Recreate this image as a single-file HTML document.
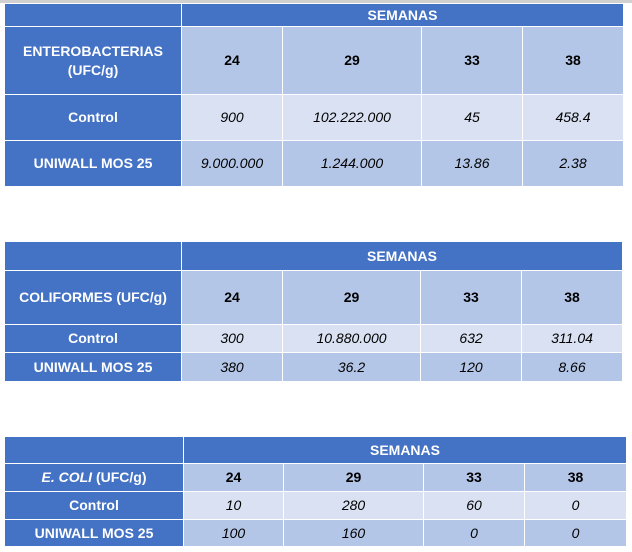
<!DOCTYPE html>
<html><head><meta charset="utf-8"><style>
body{margin:0;width:632px;height:552px;background:#fff;position:relative;overflow:hidden;font-family:"Liberation Sans",sans-serif}
.c{position:absolute;display:flex;align-items:center;justify-content:center;text-align:center;box-sizing:border-box;border-right:1px solid #fff;border-bottom:1px solid #fff;font-size:14px;color:#000;line-height:1.35}
.h{background:#4472C4;color:#fff;font-weight:bold}
.k{background:#B4C6E7;font-weight:bold}
.l{background:#D9E1F2;font-style:italic}
.m{background:#B4C6E7;font-style:italic}
.topbar{position:absolute;left:0;top:0;width:632px;height:3px;background:#d0d0d0}
</style></head><body>
<div class="topbar"></div>

<!-- Table 1 -->
<div>
<div class="c h" style="left:5px;top:4px;width:177px;height:23px"></div>
<div class="c h" style="left:182px;top:4px;width:442px;height:23px">SEMANAS</div>
<div class="c h" style="left:5px;top:27px;width:177px;height:68px">ENTEROBACTERIAS<br>(UFC/g)</div>
<div class="c k" style="left:182px;top:27px;width:101px;height:68px">24</div>
<div class="c k" style="left:283px;top:27px;width:139px;height:68px">29</div>
<div class="c k" style="left:422px;top:27px;width:101px;height:68px">33</div>
<div class="c k" style="left:523px;top:27px;width:101px;height:68px">38</div>
<div class="c h" style="left:5px;top:95px;width:177px;height:46px">Control</div>
<div class="c l" style="left:182px;top:95px;width:101px;height:46px">900</div>
<div class="c l" style="left:283px;top:95px;width:139px;height:46px">102.222.000</div>
<div class="c l" style="left:422px;top:95px;width:101px;height:46px">45</div>
<div class="c l" style="left:523px;top:95px;width:101px;height:46px">458.4</div>
<div class="c h" style="left:5px;top:141px;width:177px;height:46px">UNIWALL MOS 25</div>
<div class="c m" style="left:182px;top:141px;width:101px;height:46px">9.000.000</div>
<div class="c m" style="left:283px;top:141px;width:139px;height:46px">1.244.000</div>
<div class="c m" style="left:422px;top:141px;width:101px;height:46px">13.86</div>
<div class="c m" style="left:523px;top:141px;width:101px;height:46px">2.38</div>
</div>

<!-- Table 2 -->
<div>
<div class="c h" style="left:5px;top:242px;width:177px;height:29px"></div>
<div class="c h" style="left:182px;top:242px;width:441px;height:29px">SEMANAS</div>
<div class="c h" style="left:5px;top:271px;width:177px;height:54px">COLIFORMES (UFC/g)</div>
<div class="c k" style="left:182px;top:271px;width:101px;height:54px">24</div>
<div class="c k" style="left:283px;top:271px;width:138px;height:54px">29</div>
<div class="c k" style="left:421px;top:271px;width:101px;height:54px">33</div>
<div class="c k" style="left:522px;top:271px;width:101px;height:54px">38</div>
<div class="c h" style="left:5px;top:325px;width:177px;height:28px">Control</div>
<div class="c l" style="left:182px;top:325px;width:101px;height:28px">300</div>
<div class="c l" style="left:283px;top:325px;width:138px;height:28px">10.880.000</div>
<div class="c l" style="left:421px;top:325px;width:101px;height:28px">632</div>
<div class="c l" style="left:522px;top:325px;width:101px;height:28px">311.04</div>
<div class="c h" style="left:5px;top:353px;width:177px;height:29px">UNIWALL MOS 25</div>
<div class="c m" style="left:182px;top:353px;width:101px;height:29px">380</div>
<div class="c m" style="left:283px;top:353px;width:138px;height:29px">36.2</div>
<div class="c m" style="left:421px;top:353px;width:101px;height:29px">120</div>
<div class="c m" style="left:522px;top:353px;width:101px;height:29px">8.66</div>
</div>

<!-- Table 3 -->
<div>
<div class="c h" style="left:5px;top:437px;width:179px;height:27px"></div>
<div class="c h" style="left:184px;top:437px;width:443px;height:27px">SEMANAS</div>
<div class="c h" style="left:5px;top:464px;width:179px;height:28px"><i>E. COLI</i>&nbsp;(UFC/g)</div>
<div class="c k" style="left:184px;top:464px;width:100px;height:28px">24</div>
<div class="c k" style="left:284px;top:464px;width:140px;height:28px">29</div>
<div class="c k" style="left:424px;top:464px;width:101px;height:28px">33</div>
<div class="c k" style="left:525px;top:464px;width:102px;height:28px">38</div>
<div class="c h" style="left:5px;top:492px;width:179px;height:28px">Control</div>
<div class="c l" style="left:184px;top:492px;width:100px;height:28px">10</div>
<div class="c l" style="left:284px;top:492px;width:140px;height:28px">280</div>
<div class="c l" style="left:424px;top:492px;width:101px;height:28px">60</div>
<div class="c l" style="left:525px;top:492px;width:102px;height:28px">0</div>
<div class="c h" style="left:5px;top:520px;width:179px;height:27px">UNIWALL MOS 25</div>
<div class="c m" style="left:184px;top:520px;width:100px;height:27px">100</div>
<div class="c m" style="left:284px;top:520px;width:140px;height:27px">160</div>
<div class="c m" style="left:424px;top:520px;width:101px;height:27px">0</div>
<div class="c m" style="left:525px;top:520px;width:102px;height:27px">0</div>
</div>
</body></html>
